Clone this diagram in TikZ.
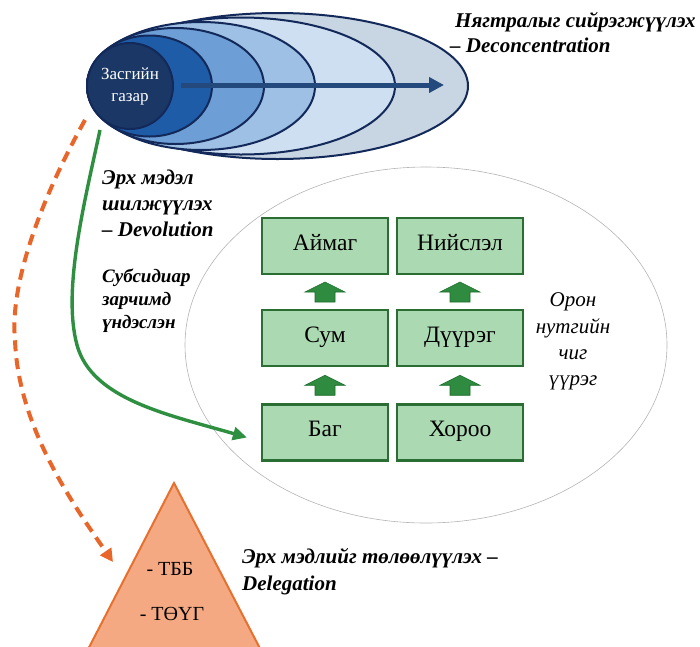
\documentclass[tikz,border=0pt]{standalone}
\usepackage{fontspec}
\setmainfont{Liberation Serif}
\usetikzlibrary{shapes.geometric,arrows.meta,calc}
\definecolor{elA}{HTML}{1A3766}
\definecolor{elB}{HTML}{1E5CA8}
\definecolor{elC}{HTML}{6D9ED5}
\definecolor{elD}{HTML}{9EC0E5}
\definecolor{elE}{HTML}{CEDFF2}
\definecolor{elF}{HTML}{C8D5E2}
\definecolor{elStroke}{HTML}{13295A}
\definecolor{bigArr}{HTML}{24497D}
\definecolor{boxFill}{HTML}{ABD9B1}
\definecolor{boxLine}{HTML}{2B6E34}
\definecolor{upFill}{HTML}{2E8B40}
\definecolor{upLine}{HTML}{1D6B2A}
\definecolor{curveGreen}{HTML}{2E8F40}
\definecolor{orangeLine}{HTML}{E8662A}
\definecolor{triFill}{HTML}{F4A983}
\definecolor{triLine}{HTML}{E8702E}
\definecolor{grayEll}{HTML}{B4B4B4}
\begin{document}
\begin{tikzpicture}[x=1pt,y=-1pt,
  nested/.style={ellipse,draw=elStroke,line width=2pt,inner sep=0pt},
  levelbox/.style={rectangle,draw=boxLine,fill=boxFill,line width=2.2pt,minimum width=126pt,minimum height=56pt,inner sep=0pt,
     font=\fontsize{23.5}{26}\selectfont,text height=15.5pt,text depth=7pt},
  boldlab/.style={anchor=base west,inner sep=0pt,font=\fontsize{21}{24}\selectfont\bfseries\itshape},
  smallboldlab/.style={anchor=base west,inner sep=0pt,font=\fontsize{19}{22}\selectfont\bfseries\itshape},
  itlab/.style={anchor=base,inner sep=0pt,font=\fontsize{21}{24}\selectfont\itshape},
  trilab/.style={anchor=base,inner sep=0pt,font=\fontsize{20}{23}\selectfont},
  uparr/.pic={\draw[fill=upFill,draw=upLine,line width=0.6pt]
     (-10,10) -- (-10,0) -- (-20,0) -- (0,-10) -- (20,0) -- (10,0) -- (10,10) -- cycle;}
]
\useasboundingbox (0,0) rectangle (700,646);

% large thin ellipse for local government
\node[ellipse,draw=grayEll,line width=0.6pt,minimum width=482pt,minimum height=356pt,inner sep=0pt] (local) at (426,345) {};

% nested ellipses (deconcentration)
\node[nested,fill=elF,minimum width=381pt,minimum height=146pt] (e6) at (277.5,86) {};
\node[nested,fill=elE,minimum width=308pt,minimum height=137pt] (e5) at (241,86) {};
\node[nested,fill=elD,minimum width=228pt,minimum height=128pt] (e4) at (201,86) {};
\node[nested,fill=elC,minimum width=177pt,minimum height=116pt] (e3) at (175.5,86) {};
\node[nested,fill=elB,minimum width=125pt,minimum height=101pt] (e2) at (149.5,86) {};
\node[nested,fill=elA,minimum width=86pt,minimum height=86pt,text=white,align=center,
      font=\fontsize{17}{22}\selectfont] (gov) at (130,86) {Засгийн\\газар};

\draw[bigArr,line width=5pt,-{Triangle[length=15pt,width=15pt]}]
  ([xshift=7pt,yshift=1pt]gov.east) -- ([xshift=-25pt,yshift=1pt]e6.east);

% deconcentration label
\node[boldlab] (dc1) at (455,27) {Нягтралыг сийрэгжүүлэх};
\node[boldlab] (dc2) at (450,52) {– Deconcentration};

% devolution label
\node[boldlab] (dv1) at (102,184) {Эрх мэдэл};
\node[boldlab] (dv2) at (102,210) {шилжүүлэх};
\node[boldlab] (dv3) at (102,236) {– Devolution};
\node[smallboldlab] (sb1) at (102,282) {Субсидиар};
\node[smallboldlab] (sb2) at (102,305) {зарчимд};
\node[smallboldlab] (sb3) at (102,328) {үндэслэн};

% boxes
\node[levelbox] (aimag) at (325,246) {Аймаг};
\node[levelbox] (niislel) at (460,246) {Нийслэл};
\node[levelbox] (sum) at (325,338) {Сум};
\node[levelbox] (duureg) at (460,338) {Дүүрэг};
\node[levelbox] (bag) at (325,432.5) {Баг};
\node[levelbox] (khoroo) at (460,432.5) {Хороо};

\pic at ($(aimag.south)!0.5!(sum.north)$) {uparr};
\pic at ($(niislel.south)!0.5!(duureg.north)$) {uparr};
\pic at ($(sum.south)!0.5!(bag.north)$) {uparr};
\pic at ($(duureg.south)!0.5!(khoroo.north)$) {uparr};

% local government functions label
\node[itlab] (or1) at (573,306) {Орон};
\node[itlab] (or2) at (573,333) {нутгийн};
\node[itlab] (or3) at (573,359) {чиг};
\node[itlab] (or4) at (573,385) {үүрэг};

% triangle (delegation)
\coordinate (tapex) at (174,483);
\draw[fill=triFill,draw=triLine,line width=2pt,line join=miter] (82.5,660) -- (tapex) -- (266,660) -- cycle;
\node[trilab] (tbb) at (170,575) {- ТББ};
\node[trilab] (tuug) at (172,620) {- ТӨҮГ};
\node[boldlab] (dl1) at (242,563) {Эрх мэдлийг төлөөлүүлэх –};
\node[boldlab] (dl2) at (242,590) {Delegation};

% connectors
\coordinate (gstart) at (100,130);
\coordinate (gend) at ($(bag.west)+(-14,5)$);
\draw[curveGreen,line width=3.4pt,-{Triangle[length=14pt,width=13pt]}]
  (gstart) .. controls (85,200) and (62,290) .. (77,345)
           .. controls (92,400) and (170,415) .. (gend);

\coordinate (ostart) at (85,120);
\coordinate (oend) at ($(tapex)+(-61,79)$);
\draw[orangeLine,line width=4pt,dash pattern=on 11pt off 7pt,-{Triangle[length=13pt,width=13pt]}]
  (ostart) .. controls (35,210) and (10,290) .. (15,340)
           .. controls (18,425) and (70,500) .. (oend);
\end{tikzpicture}
\end{document}
